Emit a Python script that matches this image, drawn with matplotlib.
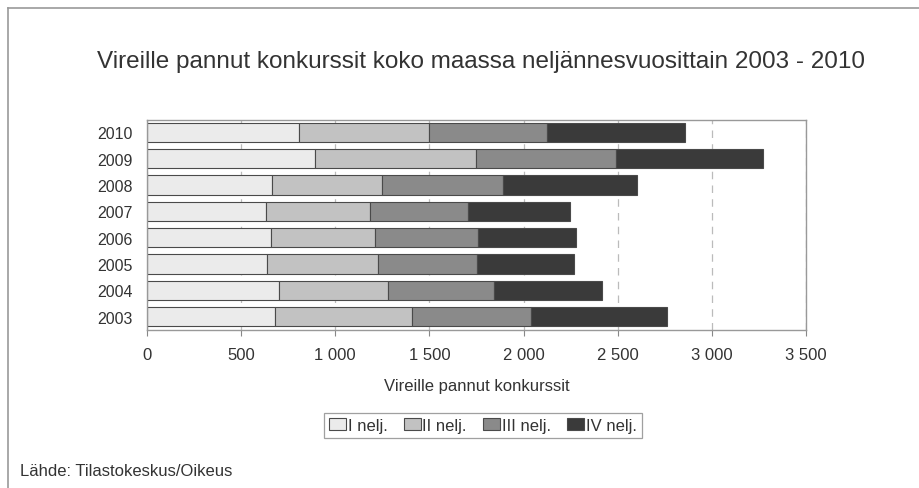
import numpy as np
import matplotlib.pyplot as plt
from matplotlib.lines import Line2D

plt.rcParams['font.family'] = ['Liberation Sans', 'DejaVu Sans']

years = ["2003", "2004", "2005", "2006", "2007", "2008", "2009", "2010"]
q1 = [681, 702, 635, 658, 633, 663, 890, 805]
q2 = [729, 576, 592, 555, 553, 587, 859, 692]
q3 = [631, 566, 527, 546, 520, 642, 744, 626]
q4 = [720, 575, 514, 518, 539, 713, 777, 736]
labels = ["I nelj.", "II nelj.", "III nelj.", "IV nelj."]
colors = ["#ebebeb", "#c2c2c2", "#8a8a8a", "#3a3a3a"]
xticks = [0, 500, 1000, 1500, 2000, 2500, 3000, 3500]
xticklabels = ["0", "500", "1 000", "1 500", "2 000", "2 500", "3 000", "3 500"]

fig = plt.figure(figsize=(9.19, 4.89), dpi=100)
ax = fig.add_axes([147 / 919, 1 - 331 / 489, (806 - 147) / 919, (331 - 121) / 489])

y = np.arange(len(years))
left = np.zeros(len(years))
for vals, lab, col in zip([q1, q2, q3, q4], labels, colors):
    ax.barh(y, vals, left=left, height=0.73, color=col, edgecolor="#4a4a4a",
            linewidth=0.8, label=lab, zorder=2)
    left += np.array(vals)

ax.set_xlim(0, 3500)
ax.set_ylim(-0.5, 7.46)
ax.set_xticks(xticks)
ax.set_xticklabels(xticklabels, fontsize=12, color="#333333")
ax.set_yticks(y)
ax.set_yticklabels(years, fontsize=11.5, color="#333333")
ax.tick_params(axis="y", length=0, pad=10)
ax.tick_params(axis="x", length=4, color="#888888", pad=8)
ax.xaxis.grid(True, color="#bbbbbb", linestyle=(0, (6, 5)), linewidth=0.9, zorder=0)
ax.set_axisbelow(True)
for s in ax.spines.values():
    s.set_color("#999999")
    s.set_linewidth(1.0)

ax.set_xlabel("Vireille pannut konkurssit", fontsize=12, color="#333333", labelpad=12)

fig.text(481 / 919, 1 - 68 / 489, "Vireille pannut konkurssit koko maassa neljännesvuosittain 2003 - 2010",
         ha="center", va="baseline", fontsize=17.5, color="#333333")
fig.text(20 / 919, 1 - 476 / 489, "Lähde: Tilastokeskus/Oikeus", ha="left", va="baseline",
         fontsize=12, color="#333333")

leg = fig.legend(loc="center", bbox_to_anchor=(483 / 919, 1 - 426.5 / 489), ncol=4,
                 fontsize=12, frameon=True, fancybox=False, edgecolor="#888888",
                 handlelength=1.0, handleheight=0.7, handletextpad=0.1,
                 columnspacing=1.0, borderpad=0.3, labelcolor="#333333")
leg.get_frame().set_linewidth(0.9)

# outer frame of the chart area
fig.add_artist(Line2D([8 / 919, 1], [1 - 9 / 489, 1 - 9 / 489], color="#999999", lw=1.2))
fig.add_artist(Line2D([8 / 919, 8 / 919], [0, 1 - 9 / 489], color="#999999", lw=1.2))

fig.savefig("out.png", dpi=100)
